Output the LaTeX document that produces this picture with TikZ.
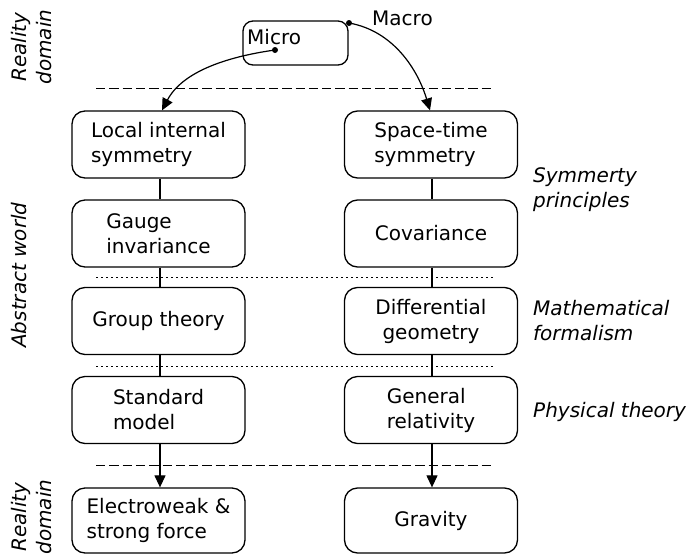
\documentclass[tikz,border=0pt]{standalone}
\usepackage{fontspec}
\setmainfont{DejaVu Sans}[ItalicFont={DejaVu Sans Oblique}]
\usetikzlibrary{arrows.meta}
\begin{document}
\begin{tikzpicture}[x=1pt,y=-1pt,
  every node/.style={font=\fontsize{20}{25}\selectfont},
  box/.style={draw, line width=1.3pt, rounded corners=13pt, minimum width=173pt, minimum height=67pt, inner sep=0pt},
  conn/.style={line width=1.2pt},
  arr/.style={line width=1.2pt, -{Triangle[length=12pt,width=11pt]}},
  lab/.style={font=\fontsize{20}{25}\selectfont\itshape, inner sep=0pt},
  plain/.style={inner sep=0pt},
  sepline/.style={line width=1pt, dash pattern=on 9.3pt off 4pt},
  dotline/.style={line width=1pt, dash pattern=on 1.6pt off 3.4pt}]
\useasboundingbox (0,0) rectangle (691,555);

% separators
\draw[sepline] (96,88) -- (492,88);
\draw[sepline] (96,465) -- (492,465);
\draw[dotline] (96,277) -- (493,277);
\draw[dotline] (96,366) -- (493,366);

% left column
\node[box, align=left] (lis) at (158.5,144.5) {Local internal\\symmetry};
\node[box, align=left] (gi) at (158.5,233.5) {Gauge\\invariance};
\node[box] (gt) at (158.5,321) {Group theory};
\node[box, align=left] (sm) at (158.5,410) {Standard\\model};
\node[box, align=left, minimum height=65pt] (ew) at (158.5,520.5) {Electroweak \&\\strong force};

% right column
\node[box, align=left] (st) at (431,144.5) {Space-time\\symmetry};
\node[box] (cov) at (431,233.5) {Covariance};
\node[box, align=center] (dg) at (431,321) {Differential\\geometry};
\node[box, align=left] (gr) at (431,410) {General\\relativity};
\node[box, minimum height=65pt] (grav) at (431,520.5) {Gravity};

% connectors
\begin{scope}[every path/.append style={}]
\draw[conn] ([xshift=1.5pt]lis.south) -- ([xshift=1.5pt]gi.north);
\draw[conn] ([xshift=1.5pt]gi.south) -- ([xshift=1.5pt]gt.north);
\draw[conn] ([xshift=1.5pt]gt.south) -- ([xshift=1.5pt]sm.north);
\draw[arr] ([xshift=1.5pt]sm.south) -- ([xshift=1.5pt]ew.north);
\draw[conn] ([xshift=1pt]st.south) -- ([xshift=1pt]cov.north);
\draw[conn] ([xshift=1pt]cov.south) -- ([xshift=1pt]dg.north);
\draw[conn] ([xshift=1pt]dg.south) -- ([xshift=1pt]gr.north);
\draw[arr] ([xshift=1pt]gr.south) -- ([xshift=1pt]grav.north);
\end{scope}

% micro / macro
\node[draw, line width=1.3pt, rounded corners=10pt, minimum width=105pt, minimum height=44pt, inner sep=0pt] (mm) at (295.5,43) {};
\node[plain, anchor=base west] (microlab) at (247,44) {Micro};
\node[plain, anchor=base west] (macrolab) at (372,25) {Macro};
\coordinate (microdot) at (275,50);
\coordinate (macrodot) at (349,23);
\fill (microdot) circle (3pt);
\fill (macrodot) circle (3pt);
\draw[arr] (microdot) .. controls +(-50,7) and +(20,-38) .. ([xshift=3.5pt]lis.north);
\draw[arr] (macrodot) .. controls +(45,8) and +(-12,-40) .. ([xshift=-1pt]st.north);

% right labels
\node[lab, anchor=west, align=left] (symlab) at (533,189.5) {Symmerty\\principles};
\node[lab, anchor=west, align=left] (mathlab) at (533,320.6) {Mathematical\\formalism};
\node[lab, anchor=base west] (physlab) at (533,417) {Physical theory};

% left rotated labels
\node[lab, rotate=90, align=center] (realtop) at (31.9,47) {Reality\\domain};
\node[lab, rotate=90, anchor=base] (abstract) at (26,275) {Abstract world};
\node[lab, rotate=90, align=center] (realbot) at (31.9,517) {Reality\\domain};
\end{tikzpicture}
\end{document}
